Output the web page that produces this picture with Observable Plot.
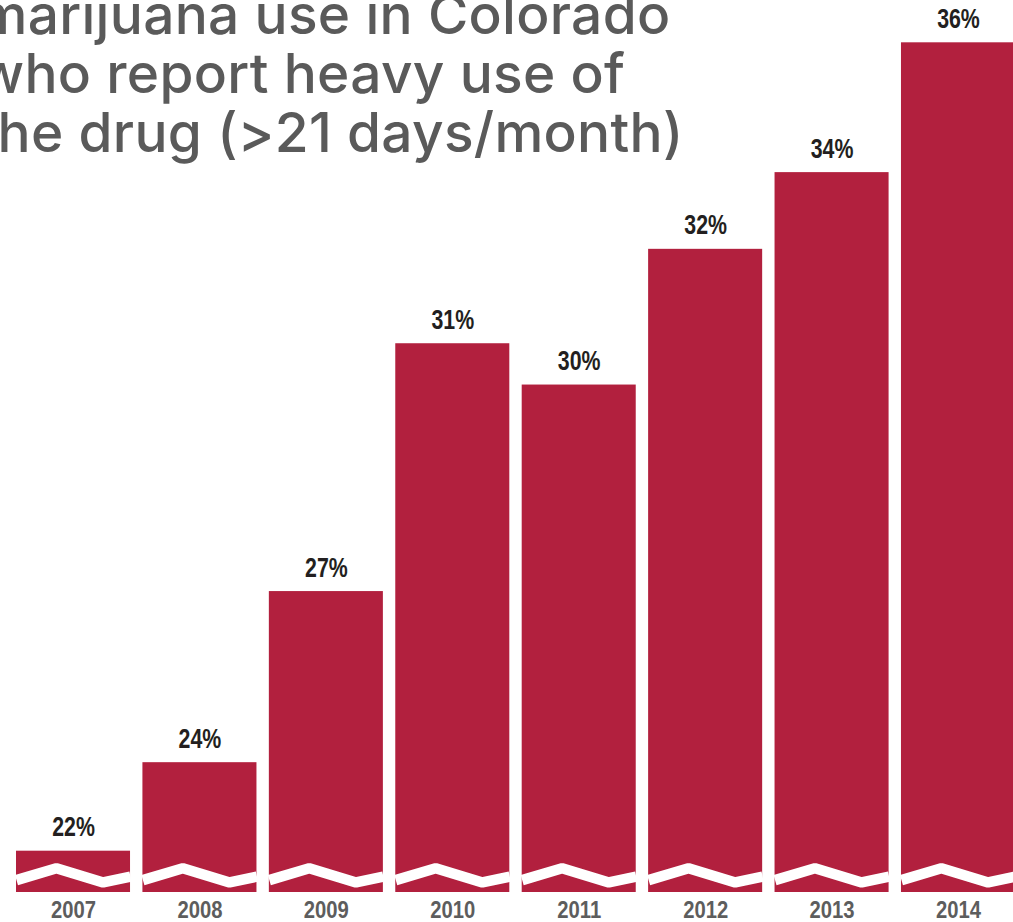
<!DOCTYPE html>
<html>
<head>
<meta charset="utf-8">
<script src="https://cdn.jsdelivr.net/npm/d3@7"></script>
<script src="https://cdn.jsdelivr.net/npm/@observablehq/plot@0.6"></script>
<style>
  html, body { margin: 0; padding: 0; background: #ffffff; overflow: hidden; }
  #chart { position: relative; width: 1013px; height: 922px; overflow: hidden; }
</style>
</head>
<body>
<div id="chart"></div>
<script>
// ---- data ----
const years = [2007, 2008, 2009, 2010, 2011, 2012, 2013, 2014];
const values = [22.2, 23.7, 26.6, 30.8, 30.1, 32.4, 33.7, 35.9];   // bar heights (axis truncated)
const labels = ["22%", "24%", "27%", "31%", "30%", "32%", "34%", "36%"];
const titleLines = ["marijuana use in Colorado", "who report heavy use of", "the drug (>21 days/month)"];

// ---- chart build ----
const yBase = 21.5;           // truncated baseline of the value axis
const half = 0.451;           // half bar width, in years
const data = years.map((year, i) => ({year, value: values[i], label: labels[i]}));

// axis-break zigzag: [fraction across bar, rise above baseline in value units]
const breakShape = [[0, 0.21], [0.35, 0.41], [0.76, 0.17], [1, 0.27]];
const breakPts = data.flatMap(d => breakShape.map(([f, h]) => ({
  year: d.year, x: d.year - half + 2 * half * f, y: yBase + h
})));

const labelFont = "'Liberation Sans', Arial, sans-serif";
const yearFont = "'Liberation Sans', Arial, Helvetica, sans-serif";

const chart = Plot.plot({
  width: 1013,
  height: 922,
  marginTop: 1,
  marginBottom: 30,
  marginLeft: 0,
  marginRight: 0,
  style: {background: "#ffffff"},
  x: {type: "linear", domain: [2006.5, 2014.5], range: [9.8, 1021.2]},
  y: {domain: [yBase, 36.6], axis: null},
  marks: [
    Plot.rectY(data, {
      x1: d => d.year - half, x2: d => d.year + half,
      y1: yBase, y2: "value", fill: "#b2203e"
    }),
    Plot.line(breakPts, {
      x: "x", y: "y", z: "year", stroke: "#ffffff", strokeWidth: 10.5,
      strokeLinejoin: "miter", strokeLinecap: "butt"
    }),
    Plot.text(data, {
      x: "year", y: "value", text: "label", dy: -15, lineAnchor: "bottom",
      fontSize: 27, fontFamily: labelFont, fontWeight: "bold", fill: "#231f20"
    }),
    Plot.axisX(years, {
      tickSize: 0, tickPadding: 9, tickFormat: d => String(d), label: null,
      fontSize: 23, fontFamily: yearFont, fontWeight: "bold", fill: "#5d5d5d", color: "#5d5d5d"
    }),
    Plot.text([titleLines.join("\n")], {
      text: d => d, frameAnchor: "top-left", textAnchor: "start", lineAnchor: "top",
      dx: -22, dy: -9, lineHeight: 59 / 55,
      fontSize: 55, fontFamily: "Inter", fontWeight: 500, fill: "#5a5a5a"
    })
  ]
});

// condense the bold label faces horizontally (the reference uses a condensed face)
function condense(selector, k) {
  chart.querySelectorAll(selector).forEach(t => {
    const tr = t.getAttribute("transform") || "";
    t.setAttribute("transform", tr + ` scale(${k},1)`);
  });
}
condense(`g[font-family="${labelFont}"] text`, 0.79);
condense(`g[font-family="${yearFont}"] text`, 0.88);
chart.querySelectorAll(`g[font-family^="Inter"]`).forEach(g => g.setAttribute("letter-spacing", "0.3"));

document.getElementById("chart").appendChild(chart);
</script>
</body>
</html>
